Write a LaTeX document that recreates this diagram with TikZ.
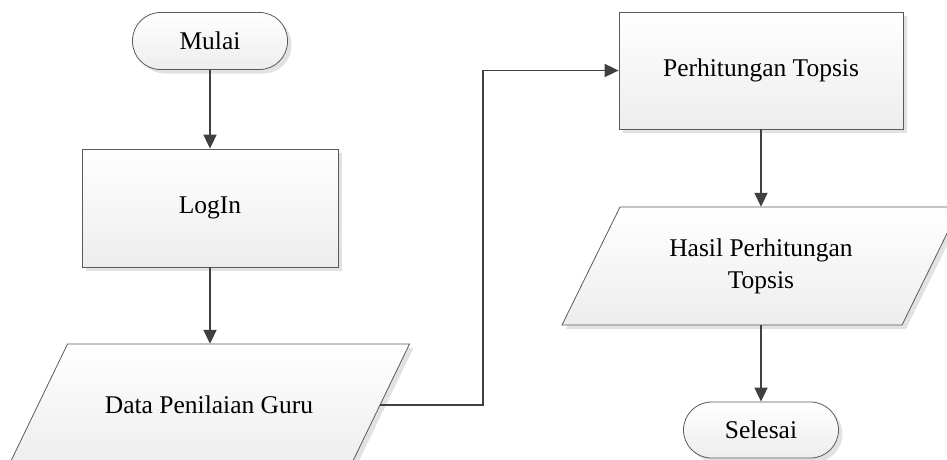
\documentclass[tikz,border=0pt]{standalone}
\usepackage{fontspec}
\setmainfont{Liberation Serif}
\usetikzlibrary{arrows.meta,shadows}
\definecolor{edgegray}{HTML}{5A5A5A}
\definecolor{arrgray}{HTML}{404040}
\definecolor{fillbot}{HTML}{EDEDED}
\definecolor{shadowgray}{HTML}{E2E2E2}
\tikzset{
  shapestyle/.style={draw=edgegray, line width=0.8pt, top color=white, bottom color=fillbot,
    drop shadow={shadow xshift=4pt, shadow yshift=-4pt, fill=shadowgray, opacity=1}},
  termbox/.style={shapestyle, rectangle, rounded corners=28pt, minimum width=155pt, minimum height=57pt, inner sep=0pt},
  procbox/.style={shapestyle, rectangle, minimum height=118pt, inner sep=0pt},
  anchorbox/.style={rectangle, draw=none, inner sep=0pt, align=center},
  arr/.style={draw=arrgray, line width=1.8pt, -{Triangle[length=14pt,width=13pt]}},
}
\begin{document}
\begin{tikzpicture}[x=1pt,y=-1pt, font=\fontsize{25.5}{32}\selectfont]
\useasboundingbox (0,0) rectangle (947,459);
% terminators and processes
\node[termbox] (mulai) at (210,41) {Mulai};
\node[procbox, minimum width=256pt] (login) at (210,208) {LogIn};
\node[procbox, minimum width=284pt, minimum height=117pt] (topsis) at (761,70.5) {Perhitungan Topsis};
\node[termbox, minimum height=56pt] (selesai) at (761,430) {Selesai};
% parallelograms
\path[shapestyle] (67.5,344) -- (409.5,344) -- (350.5,466) -- (8.5,466) -- cycle;
\node[anchorbox, minimum width=342pt, minimum height=122pt] (data) at (209,405) {Data Penilaian Guru};
\path[shapestyle] (620,207) -- (960,207) -- (902,325) -- (562,325) -- cycle;
\node[anchorbox, minimum width=340pt, minimum height=118pt] (hasil) at (761,266) {Hasil Perhitungan\\Topsis};
\coordinate (bendx) at (483,0);
% connectors
\draw[arr] (mulai.south) -- (login.north);
\draw[arr] (login.south) -- (login.south |- data.north);
\draw[arr] (data.east) -- (data.east -| bendx) |- (topsis.west);
\draw[arr] (topsis.south) -- (hasil.north);
\draw[arr] (hasil.south) -- (selesai.north);
\end{tikzpicture}
\end{document}
